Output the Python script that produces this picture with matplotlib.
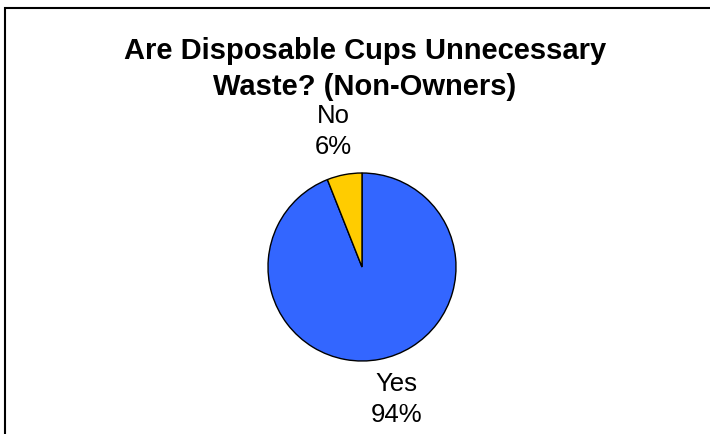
import matplotlib
matplotlib.use('Agg')
import matplotlib.pyplot as plt
from matplotlib.patches import Rectangle

# data
categories = ['Yes', 'No']
shares = [94, 6]
colors = ['#3366FF', '#FFCC00']
title = 'Are Disposable Cups Unnecessary\nWaste? (Non-Owners)'

plt.rcParams['font.family'] = ['Liberation Sans', 'DejaVu Sans']

W, H = 710, 434
fig = plt.figure(figsize=(W / 100, H / 100), dpi=100)

# chart border (left/top visible, runs off right and bottom)
fig.patches.append(Rectangle((5 / W, -0.05), 1.2, 1 - 8 / H + 0.05,
                             transform=fig.transFigure, fill=False,
                             edgecolor='black', linewidth=1.5))

fig.text(365 / W, 1 - 69 / H, title, ha='center', va='center',
         fontsize=21, fontweight='bold', linespacing=1.34)

# pie centred at (362, 267) px, radius 94 px
cx, cy, r = 362, 267, 94
ax = fig.add_axes([(cx - r) / W, (H - cy - r) / H, 2 * r / W, 2 * r / H])
wedges, texts = ax.pie(shares, colors=colors, startangle=90, counterclock=False,
                       labels=[f'{c}\n{v}%' for c, v in zip(categories, shares)],
                       wedgeprops=dict(edgecolor='black', linewidth=1.0),
                       textprops=dict(fontsize=18.5, ha='center', va='center',
                                      linespacing=1.39))
ax.set_xlim(-1, 1)
ax.set_ylim(-1, 1)
ax.set_aspect('equal')
# Excel-style label placement
texts[0].set_position((0.37, -1.41))
texts[1].set_position((-0.30, 1.44))
ax.axis('off')

fig.savefig('out.png', dpi=100)
